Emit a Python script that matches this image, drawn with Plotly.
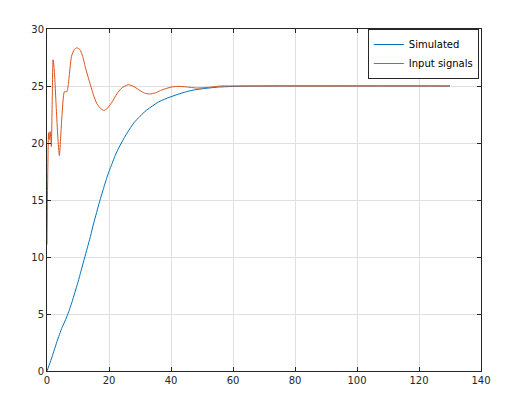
import plotly.graph_objects as go

# Simulated output
t_sim = [0, 1, 2, 3, 4, 5, 6, 7, 8, 9, 10, 11, 12, 13, 14, 15, 16, 17, 18, 19, 20,
         21, 22, 23, 24, 25, 26, 28, 30, 32, 34, 36, 38, 40, 42, 45, 48, 51.5, 55, 58,
         62, 70, 130]
y_sim = [0, 0.75, 1.55, 2.4, 3.2, 3.9, 4.5, 5.2, 6.0, 6.9, 7.8, 8.8, 9.8, 10.8, 11.8,
         12.9, 13.9, 14.9, 15.8, 16.7, 17.5, 18.2, 18.9, 19.5, 20.0, 20.5, 20.95, 21.75,
         22.35, 22.85, 23.25, 23.6, 23.85, 24.06, 24.25, 24.5, 24.68, 24.8, 24.9, 24.94,
         24.98, 25.0, 25.0]

# Input signals
t_in = [0, 0.2, 0.5, 0.75, 1.0, 1.2, 1.4, 1.7, 1.95, 2.35, 3.0, 3.5, 4.0, 4.8, 5.6,
        6.4, 6.9, 7.9, 8.8, 9.6, 10.6, 11.5, 12.5, 13.9, 15.0, 16.0, 17.2, 18.4, 19.5,
        21, 22.5, 24, 26.2, 28, 30, 31.5, 33, 35, 37, 40, 42, 45, 48.3, 52, 56, 60,
        70, 100, 130]
y_in = [11.1, 16.5, 20.9, 20.3, 21.0, 20.6, 19.7, 24.0, 27.3, 26.4, 23.0, 20.5, 18.9,
        22.3, 24.5, 24.5, 25.2, 27.6, 28.2, 28.35, 28.2, 27.6, 26.5, 25.2, 24.2, 23.5,
        23.05, 22.85, 23.05, 23.6, 24.3, 24.8, 25.12, 24.95, 24.6, 24.38, 24.3, 24.4,
        24.65, 24.9, 24.97, 24.92, 24.82, 24.88, 25.0, 25.0, 25.0, 25.0, 25.0]

x_ticks = [0, 20, 40, 60, 80, 100, 120, 140]
y_ticks = [0, 5, 10, 15, 20, 25, 30]

fig = go.Figure()
fig.add_trace(go.Scatter(x=t_sim, y=y_sim, mode="lines", name="Simulated",
                         line=dict(color="#0072BD", width=1, shape="spline", smoothing=0.8)))
fig.add_trace(go.Scatter(x=t_in, y=y_in, mode="lines", name="Input signals",
                         line=dict(color="#D95319", width=1, shape="spline", smoothing=0.5)))

axis_common = dict(
    showgrid=True, gridcolor="#e0e0e0", gridwidth=1,
    showline=True, linecolor="#262626", linewidth=1, mirror="ticks",
    ticks="inside", ticklen=4, tickcolor="#262626",
    tickfont=dict(family="DejaVu Sans", size=10, color="#262626"),
    zeroline=False,
)
fig.update_xaxes(range=[0, 140], tickvals=x_ticks, **axis_common)
fig.update_yaxes(range=[0, 30], tickvals=y_ticks, **axis_common)

fig.update_layout(
    width=515, height=412,
    margin=dict(l=39, r=42, t=21, b=49),
    paper_bgcolor="white", plot_bgcolor="white",
    font=dict(family="DejaVu Sans", size=10, color="#262626"),
    legend=dict(x=0.995, y=1.0, xanchor="right", yanchor="top",
                bordercolor="#262626", borderwidth=1, bgcolor="white",
                font=dict(size=10, color="#000000"), itemwidth=30,
                tracegroupgap=0),
    showlegend=True,
)

fig.write_html("out.html")
